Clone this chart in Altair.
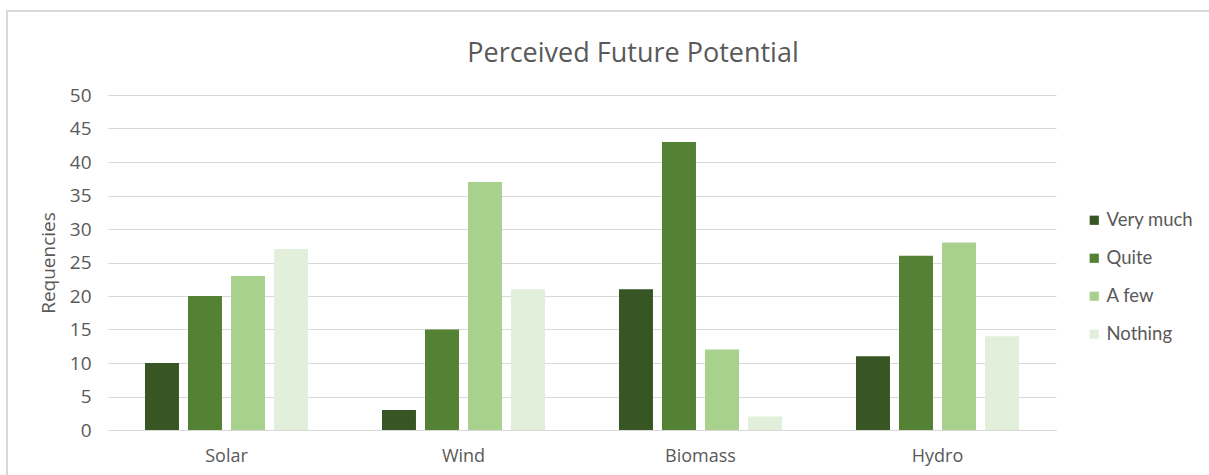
import altair as alt
import pandas as pd

sources = ["Solar", "Wind", "Biomass", "Hydro"]
levels = ["Very much", "Quite", "A few", "Nothing"]
very_much = [10, 3, 21, 11]
quite = [20, 15, 43, 26]
a_few = [23, 37, 12, 28]
nothing = [27, 21, 2, 14]
colors = ["#375623", "#548235", "#A9D18E", "#E2EFDA"]
chart_title = "Perceived Future Potential"

rows = []
for lvl, vals in zip(levels, [very_much, quite, a_few, nothing]):
    for src, v in zip(sources, vals):
        rows.append({"Source": src, "Level": lvl, "Value": v})
df = pd.DataFrame(rows)

FONT = "Open Sans"
TXT = "#595959"
one = pd.DataFrame({"k": [0]})

# light frame around the whole figure, drawn in pixel space outside the plot
frame = alt.Chart(one).mark_rect(
    fillOpacity=0, stroke="#d9d9d9", strokeWidth=2, clip=False
).encode(
    x=alt.value(-101), x2=alt.value(1120),
    y=alt.value(-84), y2=alt.value(400),
)

title = alt.Chart(one).mark_text(
    text=chart_title, font=FONT, fontSize=27, color=TXT,
    align="center", baseline="middle", clip=False
).encode(x=alt.value(525), y=alt.value(-41))

bars = alt.Chart(df).mark_bar().encode(
    x=alt.X("Source:N", sort=sources,
            scale=alt.Scale(paddingInner=0, paddingOuter=0),
            axis=alt.Axis(title=None, labelAngle=0, labelFont=FONT,
                          labelFontSize=18, labelColor=TXT, ticks=False,
                          domainColor="#d9d9d9", labelPadding=17)),
    xOffset=alt.XOffset("Level:N", sort=levels,
                        scale=alt.Scale(paddingInner=0.21, paddingOuter=0.86)),
    y=alt.Y("Value:Q", scale=alt.Scale(domain=[0, 50]),
            axis=alt.Axis(title="Requencies", values=list(range(0, 51, 5)),
                          labelFont=FONT, labelFontSize=19, labelColor=TXT,
                          titleFont=FONT, titleFontSize=19, titleColor=TXT,
                          titleFontWeight="normal", titlePadding=11,
                          ticks=False, domain=False, gridColor="#d9d9d9",
                          labelPadding=17)),
    color=alt.Color("Level:N", sort=levels,
                    scale=alt.Scale(domain=levels, range=colors),
                    legend=alt.Legend(title=None, orient="none",
                                      legendX=977, legendY=116,
                                      symbolType="square", symbolSize=85,
                                      symbolStrokeWidth=0,
                                      labelFont="Lato", labelFontSize=18.5,
                                      labelColor=TXT, rowPadding=19,
                                      labelOffset=3)),
)

chart = alt.layer(frame, bars, title).properties(
    width=948, height=335,
    autosize=alt.AutoSizeParams(type="none"),
    padding={"left": 108, "top": 95, "right": 153, "bottom": 45},
    background="white",
).configure_view(stroke=None)

chart.save("out.html", embed_options={"renderer": "svg", "actions": False})
